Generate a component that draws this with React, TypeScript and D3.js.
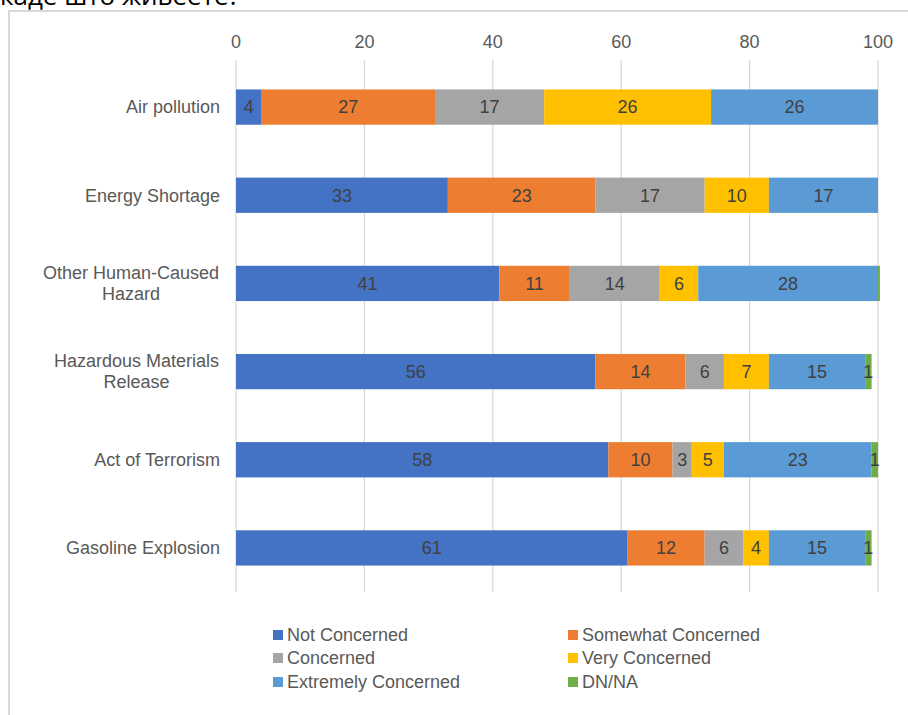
import React, { useEffect, useRef } from "react";
import * as d3 from "d3";

const categories = [
  "Air pollution",
  "Energy Shortage",
  "Other Human-Caused Hazard",
  "Hazardous Materials Release",
  "Act of Terrorism",
  "Gasoline Explosion",
];
const categoryLines = [
  ["Air pollution"],
  ["Energy Shortage"],
  ["Other Human-Caused", "Hazard"],
  ["Hazardous Materials", "Release"],
  ["Act of Terrorism"],
  ["Gasoline Explosion"],
];
const seriesNames = [
  "Not Concerned",
  "Somewhat Concerned",
  "Concerned",
  "Very Concerned",
  "Extremely Concerned",
  "DN/NA",
];
const notConcerned = [4, 33, 41, 56, 58, 61];
const somewhatConcerned = [27, 23, 11, 14, 10, 12];
const concerned = [17, 17, 14, 6, 3, 6];
const veryConcerned = [26, 10, 6, 7, 5, 4];
const extremelyConcerned = [26, 17, 28, 15, 23, 15];
const dnNa = [0, 0, 0.3, 1, 1, 1];
const xTicks = [0, 20, 40, 60, 80, 100];
const colors = ["#4472C4", "#ED7D31", "#A5A5A5", "#FFC000", "#5B9BD5", "#70AD47"];
const title = "каде што живеете?";

export default function App() {
  const ref = useRef<SVGSVGElement>(null);
  useEffect(() => {
    const svg = d3.select(ref.current);
    svg.selectAll("*").remove();
    const font = "'Liberation Sans', Arial, sans-serif";
    const fs = 18;
    const seriesVals = [notConcerned, somewhatConcerned, concerned, veryConcerned, extremelyConcerned, dnNa];
    const rows = categories.map((c, i) => {
      const r: any = { cat: c };
      seriesNames.forEach((s, j) => (r[s] = seriesVals[j][i]));
      return r;
    });
    const stack = d3.stack().keys(seriesNames)(rows);

    const x = d3.scaleLinear().domain([0, 100]).range([236, 878]);
    const y = d3.scaleBand().domain(categories).range([63, 592]).paddingInner(0.6).paddingOuter(0.3);

    // title (cut off at the top, as in the source)
    svg.append("text").attr("x", 0).attr("y", 5).attr("font-family", "'Open Sans', sans-serif")
      .attr("font-size", 26).attr("fill", "#000").text(title);

    // chart border
    svg.append("rect").attr("x", 9).attr("y", 11).attr("width", 1000).attr("height", 800)
      .attr("fill", "#fff").attr("stroke", "#d9d9d9").attr("stroke-width", 2);

    // grid
    svg.append("g").selectAll("line").data(xTicks).join("line")
      .attr("x1", (d) => x(d)).attr("x2", (d) => x(d)).attr("y1", 60).attr("y2", 592)
      .attr("stroke", "#d9d9d9").attr("stroke-width", 1.3);

    svg.append("g").selectAll("text").data(xTicks).join("text")
      .attr("x", (d) => x(d)).attr("y", 42).attr("dy", "0.35em").attr("text-anchor", "middle")
      .attr("font-family", font).attr("font-size", fs).attr("fill", "#595959").text((d) => d);

    // bars
    stack.forEach((layer, j) => {
      const g = svg.append("g");
      g.selectAll("rect").data(layer).join("rect")
        .attr("x", (d) => x(d[0])).attr("width", (d) => x(d[1]) - x(d[0]))
        .attr("y", (d: any) => y(d.data.cat)!).attr("height", y.bandwidth())
        .attr("fill", colors[j]);
    });
    stack.forEach((layer) => {
      svg.append("g").selectAll("text").data(layer.filter((d) => d[1] - d[0] >= 0.5)).join("text")
        .attr("x", (d) => (x(d[0]) + x(d[1])) / 2).attr("y", (d: any) => y(d.data.cat)! + y.bandwidth() / 2)
        .attr("dy", "0.35em").attr("text-anchor", "middle")
        .attr("font-family", font).attr("font-size", fs).attr("fill", "#404040")
        .text((d) => d3.format("d")(d[1] - d[0]));
    });

    // category labels
    categories.forEach((c, i) => {
      const lines = categoryLines[i];
      const cy = y(c)! + y.bandwidth() / 2;
      const lh = 21;
      if (lines.length === 1) {
        svg.append("text").attr("x", 220).attr("y", cy).attr("dy", "0.35em").attr("text-anchor", "end")
          .attr("font-family", font).attr("font-size", fs).attr("fill", "#595959").text(lines[0]);
      } else {
        const t = svg.append("text").attr("font-family", font).attr("font-size", fs).attr("fill", "#595959")
          .attr("text-anchor", "middle");
        const tmp = svg.append("text").attr("font-family", font).attr("font-size", fs).text(lines[0]);
        const w = (tmp.node() as SVGTextElement).getComputedTextLength();
        tmp.remove();
        const cx = 219 - w / 2;
        lines.forEach((l, k) => {
          t.append("tspan").attr("x", cx).attr("y", cy + (k - (lines.length - 1) / 2) * lh).attr("dy", "0.35em").text(l);
        });
      }
    });

    // legend
    const legX = [273, 568];
    const legY = [635, 658, 682];
    seriesNames.forEach((s, i) => {
      const lx = legX[i % 2];
      const ly = legY[Math.floor(i / 2)];
      svg.append("rect").attr("x", lx).attr("y", ly - 5).attr("width", 10).attr("height", 10).attr("fill", colors[i]);
      svg.append("text").attr("x", lx + 14).attr("y", ly).attr("dy", "0.35em")
        .attr("font-family", font).attr("font-size", fs).attr("fill", "#595959").text(s);
    });
  }, []);
  return (
    <svg ref={ref} width={908} height={715}
      style={{ position: "absolute", left: 0, top: 0, background: "#fff" }} />
  );
}
